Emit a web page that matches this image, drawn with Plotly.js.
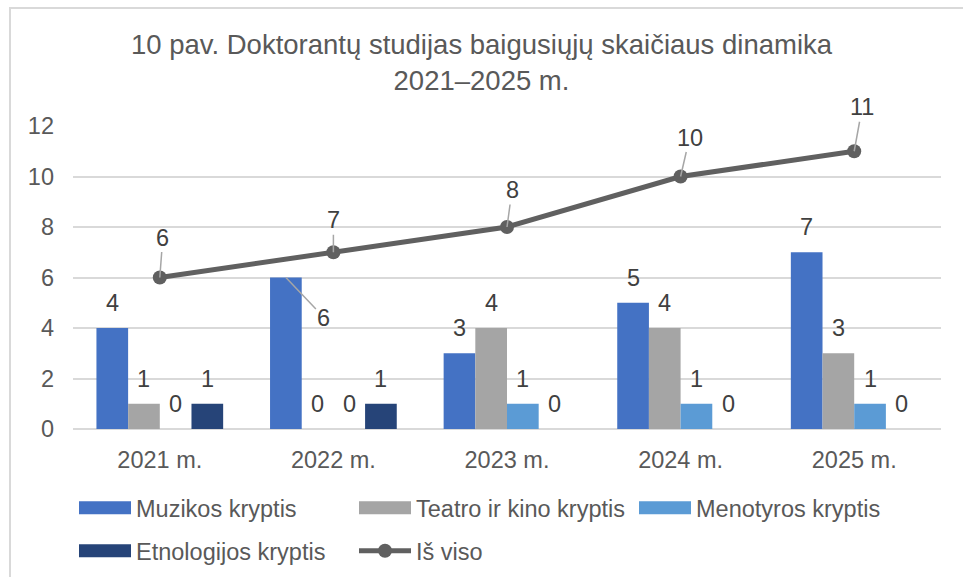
<!DOCTYPE html>
<html>
<head>
<meta charset="utf-8">
<script src="https://cdn.plot.ly/plotly-3.0.1.min.js"></script>
<style>
  html, body { margin: 0; padding: 0; background: #ffffff; }
  #frame { position: absolute; left: 9px; top: 7px; width: 1100px; height: 700px;
           border: 2px solid #D9D9D9; box-sizing: border-box; }
  #chart { position: absolute; left: 0; top: 0; width: 963px; height: 577px; }
</style>
</head>
<body>
<div id="frame"></div>
<div id="chart"></div>
<script>
// ---- data ----
const categories = ['2021 m.', '2022 m.', '2023 m.', '2024 m.', '2025 m.'];
const muzikos = [4, 6, 3, 5, 7];
const teatro = [1, 0, 4, 4, 3];
const menotyros = [0, 0, 1, 1, 1];
const etnologijos = [1, 1, 0, 0, 0];
const isViso = [6, 7, 8, 10, 11];
const seriesNames = ['Muzikos kryptis', 'Teatro ir kino kryptis', 'Menotyros kryptis', 'Etnologijos kryptis'];
const lineName = 'Iš viso';
const titleText = '10 pav. Doktorantų studijas baigusiųjų skaičiaus dinamika<br>2021–2025 m.';

// ---- style ----
const FONT = 'Liberation Sans, Arial, sans-serif';
const FS = 23.5;
const colors = ['#4472C4', '#A5A5A5', '#5B9BD5', '#264478'];
const lineColor = '#606060';
const textColor = '#595959';
const labelColor = '#404040';
const bargap = 0.27;
const barSeries = [muzikos, teatro, menotyros, etnologijos];

const traces = barSeries.map((vals, k) => ({
  type: 'bar', name: seriesNames[k], x: categories, y: vals,
  marker: { color: colors[k], line: { width: 0 } },
  legend: k < 3 ? 'legend' : 'legend2',
  hoverinfo: 'skip'
}));
traces.push({
  type: 'scatter', mode: 'lines+markers', name: lineName, x: categories, y: isViso,
  line: { color: lineColor, width: 5 },
  marker: { color: lineColor, size: 14 },
  legend: 'legend2', hoverinfo: 'skip'
});

// bar data labels
const annotations = [];
const barW = (1 - bargap) / barSeries.length;
const movedLabel = { series: 0, index: 1, ax: 38, ay: 40 };
barSeries.forEach((vals, k) => {
  vals.forEach((v, i) => {
    const xPos = i + (k - (barSeries.length - 1) / 2) * barW;
    if (k === movedLabel.series && i === movedLabel.index) {
      annotations.push({ x: xPos, y: v, xref: 'x', yref: 'y', text: String(v),
        showarrow: true, arrowhead: 0, arrowwidth: 1.5, arrowcolor: '#A6A6A6',
        ax: movedLabel.ax, ay: movedLabel.ay, standoff: 0,
        font: { family: FONT, size: FS, color: labelColor } });
    } else {
      annotations.push({ x: xPos, y: v, xref: 'x', yref: 'y', text: String(v),
        showarrow: false, yshift: 25,
        font: { family: FONT, size: FS, color: labelColor } });
    }
  });
});
// line data labels with leader lines
const lineLabelOffsets = [[3, -40], [0, -32], [5, -37], [9, -39], [8, -44]];
isViso.forEach((v, i) => {
  annotations.push({ x: categories[i], y: v, xref: 'x', yref: 'y', text: String(v),
    showarrow: true, arrowhead: 0, arrowwidth: 1.5, arrowcolor: '#A6A6A6',
    ax: lineLabelOffsets[i][0], ay: lineLabelOffsets[i][1], standoff: 0,
    font: { family: FONT, size: FS, color: labelColor } });
});

const legendCommon = {
  orientation: 'h', xref: 'container', yref: 'container',
  xanchor: 'left', yanchor: 'top',
  font: { family: FONT, size: FS, color: textColor },
  bgcolor: 'rgba(0,0,0,0)', borderwidth: 0,
  entrywidth: 213, entrywidthmode: 'pixels', itemwidth: 52,
  traceorder: 'normal', itemclick: false, itemdoubleclick: false
};

const layout = {
  width: 963, height: 577,
  margin: { l: 73, r: 22, t: 126, b: 148 },
  paper_bgcolor: 'rgba(0,0,0,0)', plot_bgcolor: 'rgba(0,0,0,0)',
  font: { family: FONT, color: textColor, size: FS },
  title: { text: titleText, x: 0.5, xref: 'container', xanchor: 'center',
           y: 1 - 54 / 577, yref: 'container', yanchor: 'top',
           font: { family: FONT, size: 27.5, color: textColor } },
  barmode: 'group', bargap: bargap, bargroupgap: 0,
  showlegend: true,
  legend: Object.assign({}, legendCommon, { x: 74 / 963, y: 1 - 486 / 577 }),
  legend2: Object.assign({}, legendCommon, { x: 74 / 963, y: 1 - 529 / 577 }),
  xaxis: { type: 'category', showgrid: false, zeroline: false, showline: false,
           ticks: '', ticklabelstandoff: 14,
           tickfont: { family: FONT, size: FS, color: textColor } },
  yaxis: { range: [0, 12], dtick: 2, tick0: 0, showgrid: true, gridcolor: '#D9D9D9', gridwidth: 1.5,
           zeroline: true, zerolinecolor: '#D9D9D9', zerolinewidth: 1.5, showline: false,
           ticks: '', ticklabelstandoff: 18,
           tickfont: { family: FONT, size: FS, color: textColor } },
  annotations: annotations
};

// widen the bar legend swatches to the reference's flat rectangles
function widenSwatches() {
  const half = legendCommon.itemwidth / 2;
  document.querySelectorAll('#chart .legendpoints path').forEach(function (p) {
    const d = p.getAttribute('d') || '';
    if (p.classList.contains('legendbar') || d.indexOf('M6,6H-6V-6H6Z') === 0) {
      p.setAttribute('d', 'M' + half + ',6.5H-' + half + 'V-6.5H' + half + 'Z');
    }
  });
}
const gd = document.getElementById('chart');
Plotly.newPlot(gd, traces, layout, { displayModeBar: false }).then(function () {
  widenSwatches();
  gd.on('plotly_afterplot', widenSwatches);
  setTimeout(widenSwatches, 0);
  setTimeout(widenSwatches, 200);
});
</script>
</body>
</html>
